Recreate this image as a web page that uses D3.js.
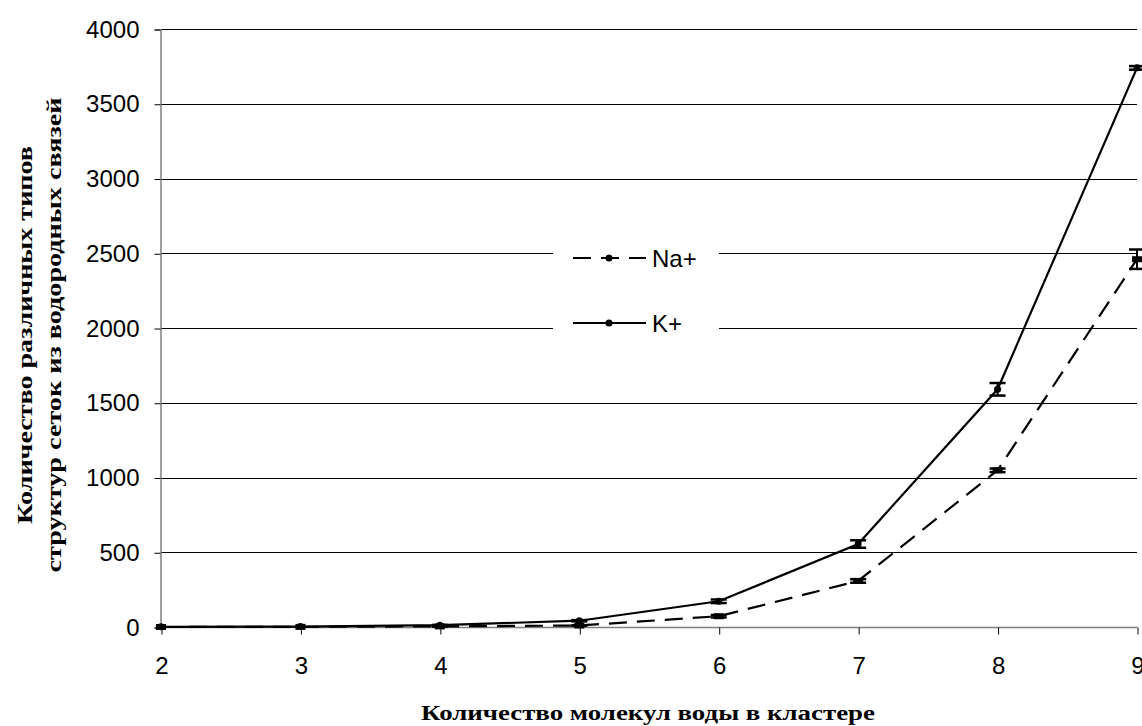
<!DOCTYPE html>
<html><head><meta charset="utf-8">
<script src="https://cdn.jsdelivr.net/npm/d3@7"></script>
<style>body{margin:0;background:#fff;overflow:hidden}svg{display:block}</style>
</head><body>
<script>
const categories = [2,3,4,5,6,7,8,9];
const naValues = [0,1,4,10,72,308,1048,2460];
const naErrors = [0,0,1,2,8,12,12,65];
const kValues = [1,3,12,42,172,555,1590,3740];
const kErrors = [0,0,2,4,12,25,42,12];
const yTicks = [0,500,1000,1500,2000,2500,3000,3500,4000];
const seriesNames = ["Na+","K+"];
const xTitle = "Количество молекул воды в кластере";
const yTitle = ["Количество различных типов","структур сеток из водородных связей"];

const W=1142,H=726;
const svg=d3.select("body").append("svg").attr("width",W).attr("height",H);
const x=d3.scaleLinear().domain([2,9]).range([161,1137]);
const y=d3.scaleLinear().domain([0,4000]).range([627,29]);

// gridlines
svg.append("g").selectAll("line").data(yTicks.slice(1)).join("line")
 .attr("x1",161).attr("x2",1137).attr("y1",d=>Math.round(y(d))+0.5).attr("y2",d=>Math.round(y(d))+0.5)
 .attr("stroke","#000").attr("stroke-width",1);

// axes
const yAxis=svg.append("g").attr("transform","translate(160.5,0.5)")
 .call(d3.axisLeft(y).tickValues(yTicks).tickSize(6).tickPadding(15).tickFormat(d3.format("d")));
const xAxis=svg.append("g").attr("transform","translate(0.5,"+(Math.round(y(0))+0.5)+")")
 .call(d3.axisBottom(x).tickValues(categories).tickSize(7).tickPadding(22).tickFormat(d3.format("d")));
[yAxis,xAxis].forEach(a=>{
 a.selectAll("path").attr("stroke","#808080").attr("stroke-width",1.5);
 a.selectAll("line").attr("stroke","#000");
 a.selectAll("text").attr("font-family","Liberation Sans, Arial, sans-serif").attr("font-size",24).attr("fill","#000");
});
xAxis.select(".domain").attr("d","M160,0H1137");

const line=d3.line().x((d,i)=>x(categories[i])).y(d=>y(d));
const series=[
 {name:seriesNames[0],vals:naValues,errs:naErrors,dash:"18,10",shape:"square"},
 {name:seriesNames[1],vals:kValues,errs:kErrors,dash:null,shape:"circle"}
];
series.forEach(s=>{
 svg.append("path").attr("d",line(s.vals)).attr("fill","none").attr("stroke","#000")
  .attr("stroke-width",2.2).attr("stroke-dasharray",s.dash);
 const g=svg.append("g");
 s.vals.forEach((v,i)=>{
  const cx=x(categories[i]),cy=y(v),e=s.errs[i];
  if(e>0){
   g.append("line").attr("x1",cx).attr("x2",cx).attr("y1",y(v-e)).attr("y2",y(v+e)).attr("stroke","#000").attr("stroke-width",2);
   [v-e,v+e].forEach(t=>g.append("line").attr("x1",cx-8).attr("x2",cx+8).attr("y1",y(t)).attr("y2",y(t)).attr("stroke","#000").attr("stroke-width",2.5));
  }
  if(s.shape==="circle") g.append("circle").attr("cx",cx).attr("cy",cy).attr("r",3.5).attr("fill","#000");
  else g.append("rect").attr("x",cx-5).attr("y",cy-3).attr("width",10).attr("height",6).attr("fill","#000");
 });
});

// legend
const lg=svg.append("g");
lg.append("rect").attr("x",553).attr("y",236).attr("width",166).attr("height",110).attr("fill","#fff");
series.forEach((s,i)=>{
 const ly=258+i*65;
 lg.append("line").attr("x1",573).attr("x2",646).attr("y1",ly).attr("y2",ly).attr("stroke","#000")
  .attr("stroke-width",2.2).attr("stroke-dasharray",s.dash);
 lg.append("circle").attr("cx",609).attr("cy",ly).attr("r",3.5).attr("fill","#000");
 lg.append("text").attr("x",652).attr("y",ly+9).text(s.name)
  .attr("font-family","Liberation Sans, Arial, sans-serif").attr("font-size",24);
});

// titles
svg.append("text").attr("x",648).attr("y",720).attr("text-anchor","middle")
 .attr("font-family","Liberation Serif, Times New Roman, serif").attr("font-weight","bold").attr("font-size",22)
 .attr("textLength",454).attr("lengthAdjust","spacingAndGlyphs").text(xTitle);
const yLens=[378,475];
yTitle.forEach((t,i)=>{
 svg.append("text").attr("transform","translate("+(32+i*29)+",335) rotate(-90)").attr("text-anchor","middle")
  .attr("font-family","Liberation Serif, Times New Roman, serif").attr("font-weight","bold").attr("font-size",22)
  .attr("textLength",yLens[i]).attr("lengthAdjust","spacingAndGlyphs").text(t);
});
</script>
</body></html>
